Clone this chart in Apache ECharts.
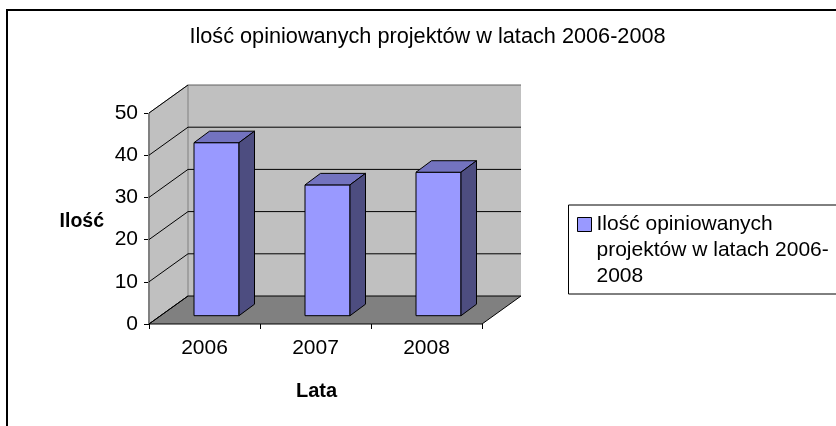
<!DOCTYPE html>
<html>
<head>
<meta charset="utf-8">
<style>html,body{margin:0;padding:0;background:#fff}#c{width:836px;height:426px}</style>
<script src="https://cdn.jsdelivr.net/npm/echarts@6/dist/echarts.min.js"></script>
</head>
<body>
<div id="c"></div>
<script>
var chartTitle = 'Ilość opiniowanych projektów w latach 2006-2008';
var seriesName = 'Ilość opiniowanych projektów w latach 2006-2008';
var legendLines = ['Ilość opiniowanych', 'projektów w latach 2006-', '2008'];
var categories = ['2006', '2007', '2008'];
var values = [41, 31, 34];
var yTicks = [0, 10, 20, 30, 40, 50];
var xAxisTitle = 'Lata';
var yAxisTitle = 'Ilość';

var FONT = '"Liberation Sans", Arial, sans-serif';
var DX = 39, DY = 28;            // wall/floor depth
var BAR_DX = 15.5, BAR_DY = 11.5; // bar depth
var OFF_DX = 12, OFF_DY = 8.3;    // bar front offset from front plane
var BAR_W = 45;

function poly(points, fill, stroke, lw) {
  return { type: 'polygon', shape: { points: points },
    style: { fill: fill, stroke: stroke || null, lineWidth: lw || 0 } };
}
function seg(x1, y1, x2, y2, color, lw) {
  return { type: 'line', shape: { x1: x1, y1: y1, x2: x2, y2: y2 },
    style: { stroke: color, lineWidth: lw } };
}

var chart = echarts.init(document.getElementById('c'), null, { renderer: 'canvas' });
chart.setOption({
  animation: false,
  backgroundColor: '#fff',
  textStyle: { fontFamily: FONT },
  title: {
    text: chartTitle, left: 422.5, top: 21, textAlign: 'center',
    textStyle: { fontFamily: FONT, fontSize: 21.7, fontWeight: 'normal', color: '#000' }
  },
  graphic: [
    { type: 'rect', z: 0, shape: { x: 7, y: 10, width: 900, height: 500 },
      style: { fill: '#fff', stroke: '#000', lineWidth: 2 } },
    { type: 'rect', z: 0, shape: { x: 568.5, y: 205, width: 400, height: 89 },
      style: { fill: '#fff', stroke: '#000', lineWidth: 1 } }
  ],
  grid: { left: 149, right: 354, top: 113, bottom: 102, containLabel: false },
  xAxis: {
    type: 'category', data: categories,
    name: xAxisTitle, nameLocation: 'middle', nameGap: 57,
    nameTextStyle: { fontFamily: FONT, fontSize: 20, fontWeight: 'bold', color: '#000', padding: [0, 0, 0, 2] },
    axisLine: { show: false },
    axisTick: { show: true, alignWithLabel: false, length: 5, lineStyle: { color: '#000' } },
    axisLabel: { fontFamily: FONT, fontSize: 21, color: '#000', margin: 14 },
    splitLine: { show: false }
  },
  yAxis: {
    type: 'value', min: 0, max: 50, interval: 10,
    name: yAxisTitle, nameLocation: 'middle', nameRotate: 0, nameGap: 45,
    nameTextStyle: { fontFamily: FONT, fontSize: 19.5, fontWeight: 'bold', color: '#000', align: 'right', verticalAlign: 'top', lineHeight: 6 },
    axisLine: { show: false },
    axisTick: { show: true, length: 5, lineStyle: { color: '#000' } },
    axisLabel: { fontFamily: FONT, fontSize: 21, color: '#000', margin: 11 },
    splitLine: { show: false }
  },
  legend: {
    data: [seriesName], left: 577, top: 159.5, orient: 'vertical', padding: 0,
    itemWidth: 14, itemHeight: 14, icon: 'rect', selectedMode: false,
    formatter: function () { return '\n\n' + legendLines.join('\n'); },
    textStyle: { fontFamily: FONT, fontSize: 21, color: '#000', lineHeight: 26 },
    itemStyle: { borderColor: '#000', borderWidth: 1 }
  },
  series: [
    {
      type: 'custom', name: 'walls', coordinateSystem: 'cartesian2d', silent: true, clip: false, z: 2,
      data: [[0, 0]],
      renderItem: function (params, api) {
        var c = params.coordSys;
        var l = c.x, r = c.x + c.width, t = c.y, b = c.y + c.height;
        return { type: 'group', children: [
          poly([[l + DX, t - DY], [r + DX, t - DY], [r + DX, b - DY], [l + DX, b - DY]], '#C0C0C0'),
          poly([[l, t], [l + DX, t - DY], [l + DX, b - DY], [l, b]], '#C0C0C0', '#808080', 1),
          poly([[l, b], [r, b], [r + DX, b - DY], [l + DX, b - DY]], '#808080'),
          seg(l, t, l, b, '#808080', 2),
          seg(l, b, r, b, '#000', 1),
          seg(r, b, r + DX, b - DY, '#000', 1),
          seg(l, b, l + DX, b - DY, '#000', 1)
        ] };
      }
    },
    {
      type: 'custom', name: 'grid', coordinateSystem: 'cartesian2d', silent: true, clip: false, z: 3,
      data: yTicks.map(function (t) { return [0, t]; }),
      renderItem: function (params, api) {
        var c = params.coordSys;
        var y = api.coord([0, api.value(1)])[1];
        var l = c.x, r = c.x + c.width;
        return { type: 'group', children: [
          seg(l, y, l + DX, y - DY, '#000', 1),
          seg(l + DX, y - DY, r + DX, y - DY, api.value(1) === 50 ? '#606060' : '#000', 1)
        ] };
      }
    },
    {
      type: 'custom', name: seriesName, coordinateSystem: 'cartesian2d', clip: false, z: 4,
      itemStyle: { color: '#9999FF' },
      data: values.map(function (v, i) { return [i, v]; }),
      encode: { x: 0, y: 1 },
      renderItem: function (params, api) {
        var top = api.coord([api.value(0), api.value(1)]);
        var bot = api.coord([api.value(0), 0]);
        var x0 = top[0] + OFF_DX - BAR_W / 2, x1 = x0 + BAR_W;
        var yt = top[1] - OFF_DY, yb = bot[1] - OFF_DY;
        return { type: 'group', children: [
          poly([[x0, yt], [x1, yt], [x1, yb], [x0, yb]], '#9999FF', '#000', 1),
          poly([[x0, yt], [x1, yt], [x1 + BAR_DX, yt - BAR_DY], [x0 + BAR_DX, yt - BAR_DY]], '#7373BF', '#000', 1),
          poly([[x1, yt], [x1 + BAR_DX, yt - BAR_DY], [x1 + BAR_DX, yb - BAR_DY], [x1, yb]], '#4D4D80', '#000', 1)
        ] };
      }
    }
  ]
});
</script>
</body>
</html>
